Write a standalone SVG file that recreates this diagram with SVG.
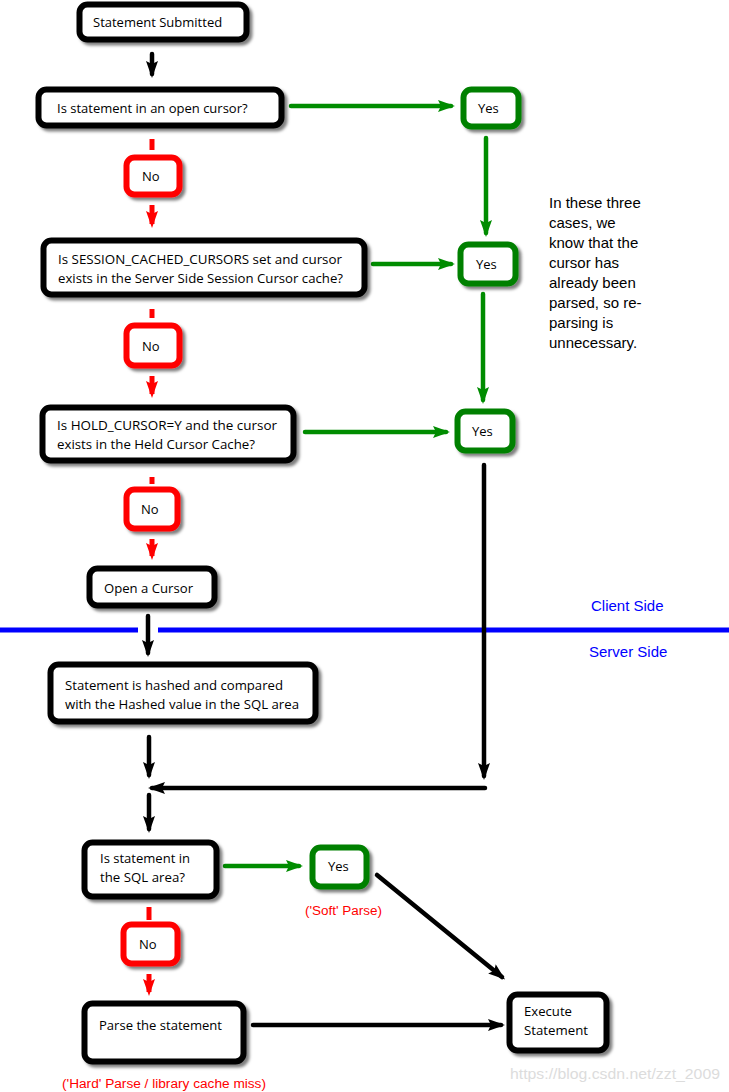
<svg xmlns="http://www.w3.org/2000/svg" width="729" height="1092" viewBox="0 0 729 1092">
<defs>
<filter id="sh" x="-10%" y="-20%" width="130%" height="150%">
<feDropShadow dx="3" dy="3" stdDeviation="1.6" flood-color="#000" flood-opacity="0.5"/>
</filter>
<marker id="mb" markerUnits="userSpaceOnUse" markerWidth="20" markerHeight="14" refX="13" refY="6" orient="auto"><path d="M0,0 L17,6 L0,12 L3,6 z" fill="#000"/></marker>
<marker id="mg" markerUnits="userSpaceOnUse" markerWidth="20" markerHeight="14" refX="13" refY="6" orient="auto"><path d="M0,0 L17,6 L0,12 L3,6 z" fill="#008c00"/></marker>
<marker id="mr" markerUnits="userSpaceOnUse" markerWidth="20" markerHeight="14" refX="13" refY="6" orient="auto"><path d="M0,0 L17,6 L0,12 L3,6 z" fill="#ff0000"/></marker>
</defs>
<style>
.box{fill:#fff;stroke:#000;stroke-width:6;filter:url(#sh)}
.yes{fill:#fff;stroke:#008000;stroke-width:6;filter:url(#sh)}
.no{fill:#fff;stroke:#ff0000;stroke-width:6;filter:url(#sh)}
.t{font-family:"Open Sans","Noto Sans",sans-serif;font-size:13px;fill:#000}
.note{font-family:"Liberation Sans",Arial,sans-serif;font-size:15px;fill:#000}
.side{font-family:"Liberation Sans",Arial,sans-serif;font-size:15px;fill:#0000ff}
.lab{font-family:"Liberation Sans",Arial,sans-serif;font-size:12px;fill:#ff0000}
.wm{font-family:"Liberation Sans",Arial,sans-serif;font-size:15px;fill:#dcdcdc}
.cb{fill:none;stroke:#000;stroke-width:4.5;stroke-linecap:round}
.cg{fill:none;stroke:#008c00;stroke-width:4.5;stroke-linecap:round}
.cr{fill:none;stroke:#ff0000;stroke-width:5;stroke-linecap:butt}
</style>
<rect width="729" height="1092" fill="#fff"/>
<g id="divider">
<line x1="0" y1="630" x2="138" y2="630" stroke="#0000ff" stroke-width="5"/>
<line x1="158" y1="630" x2="729" y2="630" stroke="#0000ff" stroke-width="5"/>
<text class="side" x="591" y="611">Client Side</text>
<text class="side" x="589" y="657">Server Side</text>
</g>
<g id="connectors">
<line class="cb" x1="152" y1="54" x2="152" y2="74" marker-end="url(#mb)"/>
<line class="cg" x1="291" y1="106" x2="451" y2="106" marker-end="url(#mg)"/>
<line class="cg" x1="486" y1="138" x2="486" y2="233" marker-end="url(#mg)"/>
<line class="cg" x1="373" y1="264" x2="451" y2="264" marker-end="url(#mg)"/>
<line class="cg" x1="483" y1="294" x2="483" y2="400" marker-end="url(#mg)"/>
<line class="cg" x1="305" y1="432" x2="446" y2="432" marker-end="url(#mg)"/>
<line class="cr" x1="152" y1="139" x2="152" y2="150"/>
<line class="cr" x1="152" y1="205" x2="152" y2="224" marker-end="url(#mr)"/>
<line class="cr" x1="152" y1="309" x2="152" y2="318"/>
<line class="cr" x1="152" y1="376" x2="152" y2="394" marker-end="url(#mr)"/>
<line class="cr" x1="152" y1="477" x2="152" y2="484"/>
<line class="cr" x1="152" y1="539" x2="152" y2="556" marker-end="url(#mr)"/>
<line class="cb" x1="148" y1="616" x2="148" y2="653" marker-end="url(#mb)"/>
<line class="cb" x1="149" y1="737" x2="149" y2="775" marker-end="url(#mb)"/>
<line class="cb" x1="484" y1="465" x2="484" y2="776" marker-end="url(#mb)"/>
<line class="cb" x1="485" y1="788" x2="152" y2="788" marker-end="url(#mb)"/>
<line class="cb" x1="149" y1="795" x2="149" y2="829" marker-end="url(#mb)"/>
<line class="cg" x1="225" y1="866" x2="299" y2="866" marker-end="url(#mg)"/>
<line class="cb" x1="377" y1="875" x2="502" y2="977" marker-end="url(#mb)"/>
<line class="cr" x1="149" y1="907" x2="149" y2="920"/>
<line class="cr" x1="149" y1="974" x2="149" y2="992" marker-end="url(#mr)"/>
<line class="cb" x1="253" y1="1025" x2="501" y2="1025" marker-end="url(#mb)"/>
</g>
<g id="n-submitted"><rect class="box" x="79.5" y="4.5" width="167" height="35" rx="8"/><text class="t" x="93" y="27">Statement Submitted</text></g>
<g id="n-open-cursor-q"><rect class="box" x="38.5" y="89.5" width="243" height="36" rx="8"/><text class="t" x="57" y="113">Is statement in an open cursor?</text></g>
<g id="n-yes1"><rect class="yes" x="463.5" y="89.5" width="55" height="37" rx="8"/><text class="t" x="478" y="113">Yes</text></g>
<g id="n-no1"><rect class="no" x="126.5" y="157.5" width="53" height="37" rx="8"/><text class="t" x="142" y="181">No</text></g>
<g id="n-session-q"><rect class="box" x="43.5" y="240.5" width="321" height="54" rx="8"/><text class="t" x="58" y="264" textLength="284" lengthAdjust="spacingAndGlyphs">Is SESSION_CACHED_CURSORS set and cursor</text><text class="t" x="58" y="283" textLength="285" lengthAdjust="spacingAndGlyphs">exists in the Server Side Session Cursor cache?</text></g>
<g id="n-yes2"><rect class="yes" x="460.5" y="244.5" width="55" height="39" rx="8"/><text class="t" x="476" y="269">Yes</text></g>
<g id="n-no2"><rect class="no" x="126.5" y="325.5" width="53" height="40" rx="8"/><text class="t" x="142" y="351">No</text></g>
<g id="n-hold-q"><rect class="box" x="42.5" y="407.5" width="251" height="53" rx="8"/><text class="t" x="57" y="430" textLength="220" lengthAdjust="spacingAndGlyphs">Is HOLD_CURSOR=Y and the cursor</text><text class="t" x="57" y="449" textLength="198" lengthAdjust="spacingAndGlyphs">exists in the Held Cursor Cache?</text></g>
<g id="n-yes3"><rect class="yes" x="457.5" y="411.5" width="55" height="39" rx="8"/><text class="t" x="472" y="436">Yes</text></g>
<g id="n-no3"><rect class="no" x="126.5" y="489.5" width="51" height="39" rx="8"/><text class="t" x="141" y="514">No</text></g>
<g id="n-open"><rect class="box" x="89.5" y="568.5" width="125" height="37" rx="8"/><text class="t" x="104" y="593" textLength="89" lengthAdjust="spacingAndGlyphs">Open a Cursor</text></g>
<g id="n-hash"><rect class="box" x="50.5" y="664.5" width="265" height="57" rx="8"/><text class="t" x="65" y="690" textLength="218" lengthAdjust="spacingAndGlyphs">Statement is hashed and compared</text><text class="t" x="65" y="709" textLength="234" lengthAdjust="spacingAndGlyphs">with the Hashed value in the SQL area</text></g>
<g id="n-sql-q"><rect class="box" x="84.5" y="842.5" width="132" height="54" rx="8"/><text class="t" x="100" y="863" textLength="90" lengthAdjust="spacingAndGlyphs">Is statement in</text><text class="t" x="100" y="882" textLength="85" lengthAdjust="spacingAndGlyphs">the SQL area?</text></g>
<g id="n-yes4"><rect class="yes" x="312.5" y="847.5" width="54" height="39" rx="8"/><text class="t" x="328" y="871">Yes</text></g>
<g id="n-no4"><rect class="no" x="123.5" y="924.5" width="54" height="39" rx="8"/><text class="t" x="139" y="949">No</text></g>
<g id="n-parse"><rect class="box" x="84.5" y="1003.5" width="159" height="58" rx="8"/><text class="t" x="99" y="1030" textLength="123" lengthAdjust="spacingAndGlyphs">Parse the statement</text></g>
<g id="n-exec"><rect class="box" x="509.5" y="994.5" width="97" height="56" rx="8"/><text class="t" x="524" y="1016" textLength="48" lengthAdjust="spacingAndGlyphs">Execute</text><text class="t" x="524" y="1035" textLength="64" lengthAdjust="spacingAndGlyphs">Statement</text></g>
<g id="labels">
<text class="lab" x="305" y="915" textLength="77" lengthAdjust="spacingAndGlyphs">('Soft' Parse)</text>
<text class="lab" x="62" y="1088" textLength="204" lengthAdjust="spacingAndGlyphs">('Hard' Parse / library cache miss)</text>
<text class="note"><tspan x="549" y="208">In these three</tspan><tspan x="549" y="228">cases, we</tspan><tspan x="549" y="248">know that the</tspan><tspan x="549" y="268">cursor has</tspan><tspan x="549" y="288">already been</tspan><tspan x="549" y="308">parsed, so re-</tspan><tspan x="549" y="328">parsing is</tspan><tspan x="549" y="348">unnecessary.</tspan></text>
<text class="wm" x="510" y="1079" textLength="210" lengthAdjust="spacingAndGlyphs">https://blog.csdn.net/zzt_2009</text>
</g>
</svg>
